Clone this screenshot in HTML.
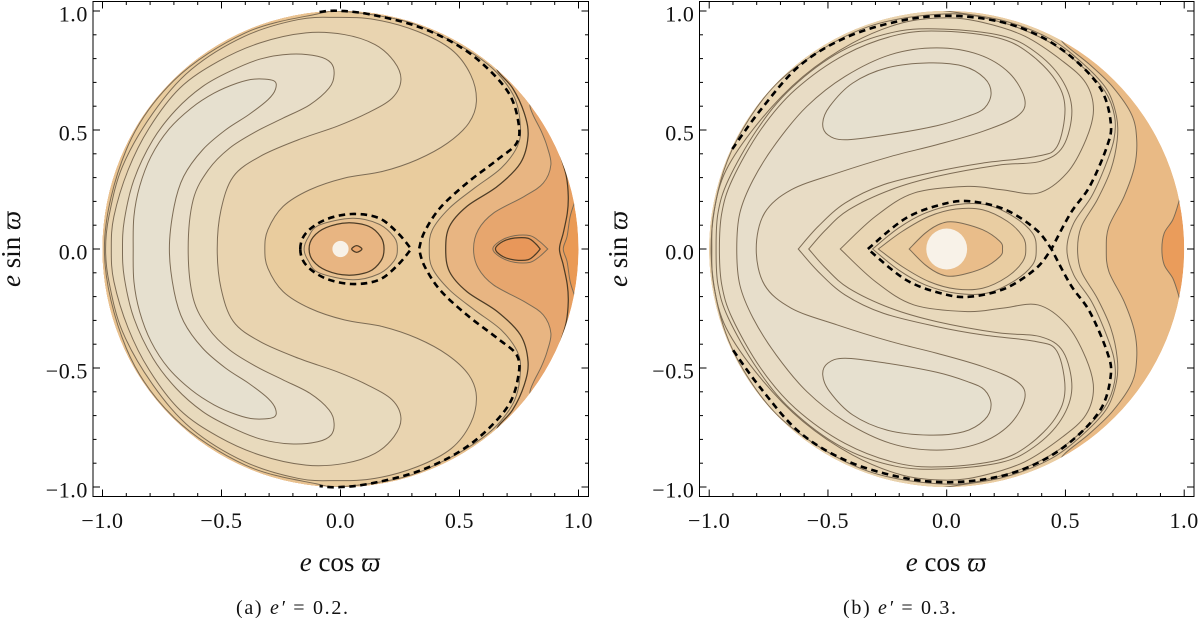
<!DOCTYPE html>
<html lang="en">
<head>
<meta charset="utf-8">
<title>Contour maps for e' = 0.2 and e' = 0.3</title>
<style>
html,body{margin:0;padding:0;background:#fff;overflow:hidden;width:1200px;height:618px;}
#stage{width:1200px;height:618px;overflow:hidden;position:relative;}
svg{display:block;filter:blur(0.3px);}
text{font-family:"Liberation Serif","DejaVu Serif",serif;fill:#111;}
.tick-label{font-size:22px;letter-spacing:0.6px;}
.axis-title{font-size:27px;}
.caption{font-size:20px;}
</style>
</head>
<body>
<div id="stage">
<svg id="chart" xmlns="http://www.w3.org/2000/svg" width="1200" height="618" viewBox="0 0 1200 618">
  <text class="axis-title" x="340" y="571" text-anchor="middle"><tspan font-style="italic">e</tspan> cos <tspan font-style="italic">ϖ</tspan></text>
  <text class="axis-title" transform="translate(20 249) rotate(-90)" text-anchor="middle"><tspan font-style="italic">e</tspan> sin <tspan font-style="italic">ϖ</tspan></text>
  <text class="caption" x="236" y="614" textLength="112" lengthAdjust="spacing">(a) <tspan font-style="italic">e′</tspan> = 0.2.</text>
  <text class="axis-title" x="946" y="571" text-anchor="middle"><tspan font-style="italic">e</tspan> cos <tspan font-style="italic">ϖ</tspan></text>
  <text class="axis-title" transform="translate(627 249) rotate(-90)" text-anchor="middle"><tspan font-style="italic">e</tspan> sin <tspan font-style="italic">ϖ</tspan></text>
  <text class="caption" x="843" y="614" textLength="113" lengthAdjust="spacing">(b) <tspan font-style="italic">e′</tspan> = 0.3.</text>
</svg>
</div>
<script>
// ---- axis data ----
const tickValuesMajor = [-1, -0.5, 0, 0.5, 1];
const tickLabels = ["\u22121.0", "\u22120.5", "0.0", "0.5", "1.0"];
const tickValuesMinor = [-0.9,-0.8,-0.7,-0.6,-0.4,-0.3,-0.2,-0.1,0.1,0.2,0.3,0.4,0.6,0.7,0.8,0.9];

// ---- panel (a), e' = 0.2: contour values in (e cos w, e sin w), upper half (y >= 0) ----
const aBanana1 = [[-.871,0],[-.868,.137],[-.844,.263],[-.796,.389],[-.723,.501],[-.627,.592],[-.531,.655],[-.434,.697],[-.362,.714],[-.281,.707],[-.273,.672],[-.305,.627],[-.386,.564],[-.482,.501],[-.579,.417],[-.659,.305],[-.699,.179],[-.719,0]];
const aBanana2 = [[-.916,0],[-.908,.123],[-.868,.291],[-.788,.459],[-.691,.585],[-.579,.683],[-.466,.746],[-.338,.798],[-.209,.819],[-.096,.810],[-.040,.782],[-.027,.732],[-.048,.676],[-.129,.606],[-.241,.550],[-.354,.494],[-.466,.424],[-.555,.333],[-.619,.207],[-.640,0]];
const aBanana3 = [[-.963,0],[-.952,.137],[-.892,.333],[-.804,.508],[-.675,.676],[-.514,.788],[-.338,.866],[-.145,.908],[.016,.901],[.145,.859],[.225,.788],[.254,.711],[.217,.634],[.113,.571],[-.016,.515],[-.177,.459],[-.338,.389],[-.450,.305],[-.502,.165],[-.518,0]];
const aBanana4 = [[-.987,0],[-.973,.137],[-.916,.347],[-.788,.571],[-.627,.754],[-.402,.894],[-.177,.964],[-.016,.973],[.145,.964],[.322,.915],[.466,.838],[.547,.732],[.571,.620],[.539,.529],[.450,.445],[.322,.375],[.177,.326],[.016,.298],[-.129,.249],[-.241,.179],[-.305,.081],[-.318,0]];
const aLevel5 = [[.373,0],[.386,.081],[.458,.172],[.563,.256],[.675,.340],[.743,.431],[.756,.515],[.732,.634],[.659,.739],[.563,.817],[.418,.898],[.257,.961],[.016,.998],[-.1,.987],[-.4,.908],[-.7,.708],[-.9,.417],[-.992,0]];
const aLevel6 = [[.442,0],[.458,.095],[.531,.179],[.659,.263],[.756,.361],[.788,.473],[.772,.571],[.723,.676],[.659,.751],[.675,.782]];
const aLevel7 = [[.559,0],[.579,.081],[.643,.151],[.772,.221],[.852,.277],[.884,.354],[.868,.431],[.844,.494],[.812,.557],[.796,.600],[.800,.640]];
const aLevel8 = [[.920,0],[.936,.067],[.953,.151],[.957,.221],[.949,.305],[.929,.375],[.916,.417]];
const aLevel9 = [[.936,0],[.952,.053],[.965,.137],[.985,.200],[1.0,.250]];
const aBlobOuter = [[.640,0],[.675,.036],[.732,.056],[.796,.056],[.836,.032],[.871,0],[.871,0]];
const aBlobInner = [[.651,0],[.683,.032],[.732,.046],[.788,.045],[.820,.022],[.839,0],[.839,0]];
const aRingOuter = [[-.153,0],[-.135,.05],[-.09,.10],[.05,.129],[.16,.105],[.225,.05],[.239,0]];
const aRingInner = [[-.132,0],[-.115,.05],[-.06,.09],[.03,.11],[.12,.095],[.17,.05],[.183,0]];
const aTinyLoop = [[.047,0],[.068,.014],[.090,0]];
const aSeparatrixArm = [[-.088,.996],[-.016,1.001],[.113,.988],[.306,.941],[.466,.871],[.595,.780],[.707,.655],[.748,.529],[.740,.445],[.659,.375],[.531,.277],[.418,.172],[.352,.07],[.330,0],[.330,0]];
const aSeparatrixOval = [[-.169,0],[-.145,.067],[-.064,.123],[.048,.147],[.161,.130],[.241,.067],[.297,0],[.297,0]];
const aSingularity = [0.034];

// ---- panel (b), e' = 0.3 ----
const bLobe = [[-.074,.782],[.071,.768],[.159,.718],[.187,.655],[.159,.592],[.087,.557],[-.042,.518],[-.251,.480],[-.428,.459],[-.501,.480],[-.522,.529],[-.493,.599],[-.396,.697],[-.251,.761]];
const bBananaA = [[-.884,0],[-.871,.151],[-.815,.291],[-.718,.445],[-.589,.599],[-.428,.725],[-.235,.817],[-.042,.845],[.135,.817],[.264,.739],[.329,.627],[.296,.557],[.151,.494],[-.042,.438],[-.235,.389],[-.461,.319],[-.654,.249],[-.767,.151],[-.802,0]];
const bBananaB = [[-.957,0],[-.947,.151],[-.903,.291],[-.783,.501],[-.638,.669],[-.428,.817],[-.203,.901],[-.010,.915],[.216,.887],[.345,.824],[.457,.711],[.498,.592],[.465,.431],[.377,.389],[.151,.361],[-.042,.326],[-.267,.270],[-.428,.193],[-.541,.095],[-.625,0],[-.625,0]];
const bBananaC = [[-.971,0],[-.963,.151],[-.919,.291],[-.799,.501],[-.654,.676],[-.444,.831],[-.219,.912],[-.010,.924],[.232,.896],[.369,.831],[.481,.718],[.527,.585],[.490,.431],[.393,.368],[.216,.352],[-.042,.305],[-.235,.249],[-.412,.165],[-.509,.081],[-.581,0],[-.581,0]];
const bBananaD = [[-.989,0],[-.981,.151],[-.928,.333],[-.783,.543],[-.605,.725],[-.396,.866],[-.187,.950],[0,.971],[.151,.952],[.329,.894],[.490,.788],[.586,.697],[.618,.585],[.586,.459],[.506,.319],[.385,.235],[.232,.249],[.087,.263],[-.138,.235],[-.300,.137],[-.448,0],[-.448,0]];
const bRim1 = [[.506,0],[.535,.109],[.610,.221],[.667,.347],[.704,.459],[.707,.557],[.667,.662],[.570,.767],[.425,.873],[.232,.952],[0,.988],[-.33,.934],[-.62,.775],[-.80,.594],[-.94,.325],[-.992,0]];
const bRim2 = [[.551,0],[.567,.095],[.634,.207],[.691,.333],[.718,.459],[.715,.557],[.675,.669],[.578,.775],[.441,.880],[.248,.957],[.039,.994],[-.042,1.005]];
const bRim3 = [[.672,0],[.683,.095],[.747,.221],[.791,.347],[.800,.459],[.779,.564],[.699,.681],[.602,.775],[.498,.859],[.457,.915]];
const bRim4 = [[.906,0],[.916,.067],[.952,.123],[.976,.193],[.989,.249]];
const bEyeOuter = [[-.312,0],[-.312,0],[-.203,.088],[-.090,.151],[.039,.186],[.167,.186],[.280,.137],[.361,.067],[.377,0]];
const bEyeInner = [[-.288,0],[-.288,0],[-.187,.074],[-.074,.137],[.039,.168],[.151,.165],[.256,.116],[.320,.053],[.333,0]];
const bEyeCore = [[-.158,0],[-.158,0],[-.090,.067],[-.026,.106],[.039,.113],[.151,.081],[.224,.032],[.235,0]];
const bSeparatrixArm = [[-.903,.420],[-.783,.585],[-.622,.768],[-.428,.887],[-.203,.957],[0,.980],[.216,.957],[.393,.894],[.538,.796],[.651,.669],[.691,.529],[.675,.431],[.602,.263],[.522,.151],[.441,0],[.441,0]];
const bSeparatrixOval = [[-.332,0],[-.332,0],[-.171,.130],[-.010,.190],[.103,.200],[.248,.165],[.377,.081],[.441,0],[.441,0]];
const bSingularity = [0.086];

// ---- renderer ----
const NS = 'http://www.w3.org/2000/svg';
const svg = document.getElementById('chart');
const LINE = '#7d6c55';
const DARK = '#4d3c26';
const OUTER_R = 1.035;

function make(tag, attrs) {
  const el = document.createElementNS(NS, tag);
  for (const k in attrs) el.setAttribute(k, attrs[k]);
  return el;
}
function mirror(pts) {
  const rev = pts.slice().reverse().filter(p => p[1] !== 0).map(p => [p[0], -p[1]]);
  return pts.concat(rev);
}
function spline(points, closed, sx, sy) {
  const P = points.map(p => [sx(p[0]), sy(p[1])]);
  const n = P.length;
  const at = i => closed ? P[(i + n) % n] : P[Math.max(0, Math.min(n - 1, i))];
  let d = 'M' + P[0][0].toFixed(2) + ' ' + P[0][1].toFixed(2);
  const last = closed ? n : n - 1;
  for (let i = 0; i < last; i++) {
    const p0 = at(i - 1), p1 = at(i), p2 = at(i + 1), p3 = at(i + 2);
    if (p1[0] === p2[0] && p1[1] === p2[1]) continue;
    const c1 = [p1[0] + (p2[0] - p0[0]) / 6, p1[1] + (p2[1] - p0[1]) / 6];
    const c2 = [p2[0] - (p3[0] - p1[0]) / 6, p2[1] - (p3[1] - p1[1]) / 6];
    d += 'C' + c1[0].toFixed(2) + ' ' + c1[1].toFixed(2) + ' ' + c2[0].toFixed(2) + ' ' + c2[1].toFixed(2) + ' ' + p2[0].toFixed(2) + ' ' + p2[1].toFixed(2);
  }
  return d + (closed ? 'Z' : '');
}
function closure(exit, sx, sy) {
  // close an open contour by running just outside the disc, round the left side
  const start = Math.atan2(Math.abs(exit[1]), exit[0]);
  const end = 2 * Math.PI - start;
  const steps = Math.ceil((end - start) / 0.35);
  let d = '';
  for (let i = 0; i <= steps; i++) {
    const a = start + (end - start) * i / steps;
    d += 'L' + sx(OUTER_R * Math.cos(a)).toFixed(2) + ' ' + sy(OUTER_R * Math.sin(a)).toFixed(2);
  }
  return d + 'Z';
}

function drawPanel(cfg) {
  const sx = v => cfg.cx + cfg.rx * v;
  const sy = v => cfg.cy - cfg.ry * v;

  const group = make('g', {});
  
  
  svg.appendChild(group);

  const clip = make('clipPath', { id: 'disc-' + cfg.id });
  clip.appendChild(make('ellipse', { cx: sx(0), cy: sy(0), rx: cfg.rx, ry: cfg.ry }));
  group.appendChild(clip);

  const fills = make('g', { 'clip-path': 'url(#disc-' + cfg.id + ')' });
  
  
  group.appendChild(fills);

  const base = make('ellipse', { cx: sx(0), cy: sy(0), rx: cfg.rx, ry: cfg.ry, fill: cfg.baseFill });
  
  
  fills.appendChild(base);

  const lines = make('g', { 'clip-path': 'url(#disc-' + cfg.id + ')', fill: 'none' });
  
  

  cfg.layers.forEach(layer => {
    let fillD, lineD;
    if (layer.kind === 'open') {
      const lower = layer.pts.slice().reverse().filter(p => p[1] !== 0).map(p => [p[0], -p[1]]);
      const full = lower.concat(layer.pts);
      lineD = spline(full, false, sx, sy);
      fillD = lineD + closure(layer.pts[layer.pts.length - 1], sx, sy);
    } else if (layer.kind === 'lobe') {
      const top = spline(layer.pts, true, sx, sy);
      const bottom = spline(layer.pts.map(p => [p[0], -p[1]]), true, sx, sy);
      lineD = fillD = top + bottom;
    } else {
      lineD = fillD = spline(mirror(layer.pts), true, sx, sy);
    }
    const region = make('path', { d: fillD, fill: layer.fill, 'fill-rule': 'evenodd' });
    
    
    fills.appendChild(region);

    const line = make('path', { d: lineD, stroke: layer.dark ? DARK : LINE, 'stroke-width': layer.dark ? 1.25 : 1 });
    
    
    lines.appendChild(line);
  });
  group.appendChild(lines);

  const dot = make('ellipse', { cx: sx(0), cy: sy(0), rx: cfg.rx * cfg.singularity[0], ry: cfg.ry * cfg.singularity[0], fill: '#f8f2e8' });
  
  
  group.appendChild(dot);

  const arm = make('path', { d: spline(mirror(cfg.arm), false, sx, sy), fill: 'none', stroke: '#000', 'stroke-width': 2.6, 'stroke-dasharray': '6.5 4.5' });
  
  
  group.appendChild(arm);

  const oval = make('path', { d: spline(mirror(cfg.oval), true, sx, sy), fill: 'none', stroke: '#000', 'stroke-width': 2.6, 'stroke-dasharray': '6.5 4.5' });
  
  
  group.appendChild(oval);

  // frame
  const frame = make('rect', { x: cfg.left, y: cfg.top, width: cfg.right - cfg.left, height: cfg.bottom - cfg.top, fill: 'none', stroke: '#000', 'stroke-width': 1 });
  
  
  group.appendChild(frame);

  // ticks
  const ticks = make('g', { stroke: '#000', 'stroke-width': 1 });
  
  
  group.appendChild(ticks);
  function addTicks(values, len) {
    values.forEach(v => {
      ticks.appendChild(make('line', { x1: sx(v), x2: sx(v), y1: cfg.bottom, y2: cfg.bottom - len }));
      ticks.appendChild(make('line', { x1: sx(v), x2: sx(v), y1: cfg.top, y2: cfg.top + len }));
      ticks.appendChild(make('line', { x1: cfg.left, x2: cfg.left + len, y1: sy(v), y2: sy(v) }));
      ticks.appendChild(make('line', { x1: cfg.right, x2: cfg.right - len, y1: sy(v), y2: sy(v) }));
    });
  }
  addTicks(tickValuesMajor, 7);
  addTicks(tickValuesMinor, 3.5);

  tickValuesMajor.forEach((v, i) => {
    const xl = make('text', { class: 'tick-label', x: sx(v), y: 528, 'text-anchor': 'middle' });
    xl.textContent = tickLabels[i];
    
    
    group.appendChild(xl);
    const yl = make('text', { class: 'tick-label', x: cfg.left - 5, y: sy(v) + 10.5, 'text-anchor': 'end' });
    yl.textContent = tickLabels[i];
    
    
    group.appendChild(yl);
  });
}

drawPanel({
  id: 'panel-a', cx: 340.5, cy: 249, rx: 238, ry: 238,
  left: 93, right: 588.5, top: 1.5, bottom: 496.5,
  baseFill: '#ea9a55', singularity: aSingularity, arm: aSeparatrixArm, oval: aSeparatrixOval,
  layers: [
    { name: 'level-9', kind: 'open', pts: aLevel9, fill: '#e8a062' },
    { name: 'level-8', kind: 'open', pts: aLevel8, fill: '#e7a66e', dark: true },
    { name: 'level-7', kind: 'open', pts: aLevel7, fill: '#e8b582' },
    { name: 'level-6', kind: 'open', pts: aLevel6, fill: '#e8c290', dark: true },
    { name: 'level-5', kind: 'closed', pts: aLevel5, fill: '#e9cc9e' },
    { name: 'banana-4', kind: 'closed', pts: aBanana4, fill: '#e9d4b0' },
    { name: 'banana-3', kind: 'closed', pts: aBanana3, fill: '#e8dabd' },
    { name: 'banana-2', kind: 'closed', pts: aBanana2, fill: '#e8dec9' },
    { name: 'banana-1', kind: 'closed', pts: aBanana1, fill: '#e6e0cf' },
    { name: 'ring-outer', kind: 'closed', pts: aRingOuter, fill: '#e9c292' },
    { name: 'ring-inner', kind: 'closed', pts: aRingInner, fill: '#e8b582', dark: true },
    { name: 'tiny-loop', kind: 'closed', pts: aTinyLoop, fill: '#e8a66e', dark: true },
    { name: 'blob-outer', kind: 'closed', pts: aBlobOuter, fill: '#e7a066' },
    { name: 'blob-inner', kind: 'closed', pts: aBlobInner, fill: '#e8975a', dark: true }
  ]
});

drawPanel({
  id: 'panel-b', cx: 946.7, cy: 249, rx: 237.5, ry: 238,
  left: 699.5, right: 1194, top: 1.5, bottom: 496.5,
  baseFill: '#ea9c5b', singularity: bSingularity, arm: bSeparatrixArm, oval: bSeparatrixOval,
  layers: [
    { name: 'rim-4', kind: 'open', pts: bRim4, fill: '#e9ba85' },
    { name: 'rim-3', kind: 'open', pts: bRim3, fill: '#e9cda3' },
    { name: 'rim-2', kind: 'open', pts: bRim2, fill: '#e8d2ad' },
    { name: 'rim-1', kind: 'closed', pts: bRim1, fill: '#e9d6b4' },
    { name: 'banana-d', kind: 'closed', pts: bBananaD, fill: '#e8d9bc' },
    { name: 'banana-c', kind: 'closed', pts: bBananaC, fill: '#e8dbc1' },
    { name: 'banana-b', kind: 'closed', pts: bBananaB, fill: '#e8dcc5' },
    { name: 'banana-a', kind: 'closed', pts: bBananaA, fill: '#e7decb' },
    { name: 'lobe', kind: 'lobe', pts: bLobe, fill: '#e6e0cf' },
    { name: 'eye-outer', kind: 'closed', pts: bEyeOuter, fill: '#e9d4b0' },
    { name: 'eye-inner', kind: 'closed', pts: bEyeInner, fill: '#e9cda2' },
    { name: 'eye-core', kind: 'closed', pts: bEyeCore, fill: '#e9bd8a' }
  ]
});
</script>
</body>
</html>
